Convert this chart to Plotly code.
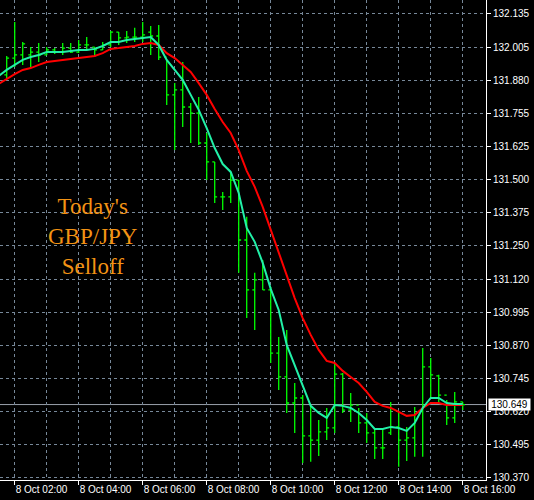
import plotly.graph_objects as go
import pandas as pd

# ---- data (M15 bars, 8 Oct) ----
bar_start = "2019-10-08 01:45"
opens = [131.903, 131.967, 131.979, 131.979, 131.990, 131.979, 131.998, 131.990, 132.005, 131.990,
         132.017, 132.009, 131.998, 132.017, 132.066, 132.044, 132.047, 132.047, 132.066, 132.051,
         131.971, 131.827, 131.846, 131.781, 131.758, 131.644, 131.572, 131.439, 131.439, 131.503,
         131.275, 131.085, 131.123, 131.085, 130.845, 130.754, 130.655, 130.674, 130.530, 130.514,
         130.545, 130.560, 130.765, 130.628, 130.647, 130.579, 130.541, 130.484, 130.541, 130.564,
         130.514, 130.522, 130.628, 130.792, 130.758, 130.685, 130.598, 130.659]
highs = [131.975, 132.104, 132.028, 132.009, 132.024, 132.009, 132.005, 132.024, 132.024, 132.036,
         132.047, 132.009, 132.028, 132.070, 132.066, 132.070, 132.082, 132.104, 132.089, 132.093,
         131.960, 131.872, 131.952, 131.796, 131.819, 131.682, 131.572, 131.458, 131.534, 131.503,
         131.363, 131.150, 131.199, 131.096, 130.906, 130.933, 130.731, 130.685, 130.647, 130.590,
         130.636, 130.807, 130.769, 130.693, 130.636, 130.617, 130.560, 130.560, 130.659, 130.621,
         130.564, 130.640, 130.864, 130.826, 130.762, 130.666, 130.697, 130.659]
lows = [131.891, 131.933, 131.941, 131.933, 131.952, 131.979, 131.983, 131.979, 131.986, 131.986,
        131.998, 131.971, 131.998, 132.009, 132.017, 132.024, 132.028, 132.028, 131.979, 131.960,
        131.789, 131.617, 131.705, 131.644, 131.636, 131.503, 131.416, 131.389, 131.416, 131.150,
        130.978, 130.933, 131.085, 130.807, 130.704, 130.617, 130.541, 130.427, 130.431, 130.453,
        130.514, 130.541, 130.617, 130.583, 130.541, 130.503, 130.442, 130.442, 130.533, 130.412,
        130.434, 130.450, 130.450, 130.678, 130.655, 130.571, 130.579, 130.628]
closes = [131.967, 131.979, 132.021, 131.990, 131.979, 131.998, 131.990, 132.005, 131.990, 132.017,
          132.017, 131.998, 132.017, 132.066, 132.044, 132.047, 132.047, 132.055, 132.051, 131.971,
          131.827, 131.846, 131.781, 131.758, 131.644, 131.572, 131.439, 131.439, 131.503, 131.275,
          131.085, 131.123, 131.085, 130.845, 130.754, 130.655, 130.674, 130.530, 130.514, 130.545,
          130.560, 130.765, 130.628, 130.647, 130.579, 130.541, 130.484, 130.484, 130.564, 130.514,
          130.522, 130.590, 130.792, 130.762, 130.685, 130.598, 130.659, 130.649]

ma_start = "2019-10-08 01:30"
ma_fast = [131.899, 131.922, 131.941, 131.960, 131.971, 131.979, 131.990, 131.990, 131.990, 131.994,
           131.998, 131.998, 132.002, 132.013, 132.028, 132.028, 132.036, 132.040, 132.044, 132.047,
           132.017, 131.960, 131.922, 131.884, 131.827, 131.770, 131.701, 131.625, 131.564, 131.534,
           131.454, 131.321, 131.268, 131.188, 131.089, 131.009, 130.876, 130.796, 130.723, 130.644,
           130.617, 130.598, 130.647, 130.644, 130.636, 130.617, 130.590, 130.556, 130.556, 130.564,
           130.560, 130.549, 130.579, 130.636, 130.674, 130.674, 130.655, 130.651, 130.651]
ma_slow = [131.869, 131.888, 131.906, 131.922, 131.929, 131.941, 131.952, 131.956, 131.960, 131.964,
           131.967, 131.971, 131.975, 131.986, 132.002, 132.005, 132.009, 132.013, 132.021, 132.024,
           132.017, 131.986, 131.967, 131.941, 131.914, 131.872, 131.827, 131.773, 131.724, 131.682,
           131.617, 131.538, 131.477, 131.401, 131.313, 131.230, 131.138, 131.054, 130.978, 130.914,
           130.857, 130.815, 130.807, 130.777, 130.754, 130.731, 130.697, 130.659, 130.644, 130.636,
           130.621, 130.606, 130.609, 130.636, 130.655, 130.655, 130.647, 130.647, 130.647]

y_tick_labels = ["130.370", "130.495", "130.620", "130.745", "130.870", "130.995", "131.120",
                 "131.250", "131.375", "131.500", "131.625", "131.755", "131.880", "132.005", "132.135"]
x_tick_times = ["2019-10-08 02:00", "2019-10-08 04:00", "2019-10-08 06:00", "2019-10-08 08:00",
                "2019-10-08 10:00", "2019-10-08 12:00", "2019-10-08 14:00", "2019-10-08 16:00"]
x_tick_labels = ["8 Oct 02:00", "8 Oct 04:00", "8 Oct 06:00", "8 Oct 08:00",
                 "8 Oct 10:00", "8 Oct 12:00", "8 Oct 14:00", "8 Oct 16:00"]
title_text = "Today's<br>GBP/JPY<br>Selloff"

# ---- figure ----
bar_times = pd.date_range(bar_start, periods=len(closes), freq="15min")
ma_times = pd.date_range(ma_start, periods=len(ma_fast), freq="15min")

lo, hi = float(y_tick_labels[0]), float(y_tick_labels[-1])
n = len(y_tick_labels) - 1
y_tick_vals = [lo + i * (hi - lo) / n for i in range(n + 1)]

GRID = "#778899"
WHITE = "#FFFFFF"
FONT = "Liberation Sans"

fig = go.Figure()
fig.add_trace(go.Ohlc(
    x=bar_times, open=opens, high=highs, low=lows, close=closes,
    increasing=dict(line=dict(color="#00FF00", width=1.3)),
    decreasing=dict(line=dict(color="#00FF00", width=1.3)),
    tickwidth=0.3, showlegend=False, hoverinfo="skip",
))
fig.add_trace(go.Scatter(x=ma_times, y=ma_slow, mode="lines",
                         line=dict(color="#FF0000", width=2), showlegend=False, hoverinfo="skip"))
fig.add_trace(go.Scatter(x=ma_times, y=ma_fast, mode="lines",
                         line=dict(color="#22F0A8", width=2), showlegend=False, hoverinfo="skip"))

last = closes[-1]
fig.add_shape(type="line", xref="paper", x0=0, x1=1, yref="y", y0=last, y1=last,
              line=dict(color="#9AA0AA", width=1), layer="below")
fig.add_annotation(xref="paper", x=1, xanchor="left", xshift=2, yref="y", y=last,
                   text=f"{last:.3f}", showarrow=False, bgcolor=WHITE, borderpad=0,
                   width=41, height=11, font=dict(color="#000000", size=10, family=FONT))
fig.add_annotation(xref="paper", x=93 / 486, xanchor="center", yref="paper", y=0.508,
                   yanchor="middle", text=title_text, showarrow=False,
                   font=dict(family="Liberation Serif", size=23, color="#F39314"),
                   align="center")

fig.update_layout(
    width=534, height=500,
    margin=dict(l=0, r=48, t=0, b=20, pad=0),
    paper_bgcolor="#000000", plot_bgcolor="#000000",
    font=dict(family=FONT, size=10, color=WHITE),
    xaxis=dict(
        range=["2019-10-08 01:32:26", "2019-10-08 16:43:40"],
        rangeslider=dict(visible=False),
        tickvals=x_tick_times, ticktext=x_tick_labels,
        ticks="outside", ticklen=4, tickcolor=WHITE, tickwidth=1,
        ticklabelposition="outside right",
        tickfont=dict(family=FONT, size=10, color=WHITE),
        showgrid=True, gridcolor=GRID, griddash="3px,3px", gridwidth=1,
        minor=dict(dtick=3600000, tick0="2019-10-08 01:00", showgrid=True,
                   gridcolor=GRID, griddash="3px,3px", gridwidth=1, ticks=""),
        showline=True, linecolor=WHITE, linewidth=1,
        zeroline=False, automargin=False, fixedrange=True,
    ),
    yaxis=dict(
        side="right",
        range=[130.362, 132.188],
        tickvals=y_tick_vals, ticktext=y_tick_labels,
        ticks="outside", ticklen=4, tickcolor=WHITE, tickwidth=1,
        tickfont=dict(family=FONT, size=10, color=WHITE),
        showgrid=True, gridcolor=GRID, griddash="3px,3px", gridwidth=1,
        showline=True, linecolor=WHITE, linewidth=1,
        zeroline=False, automargin=False, fixedrange=True,
    ),
)

fig.write_html(
    "out.html",
    config={"staticPlot": True},
    post_script="document.body.style.margin='0';document.body.style.background='#000';",
)
